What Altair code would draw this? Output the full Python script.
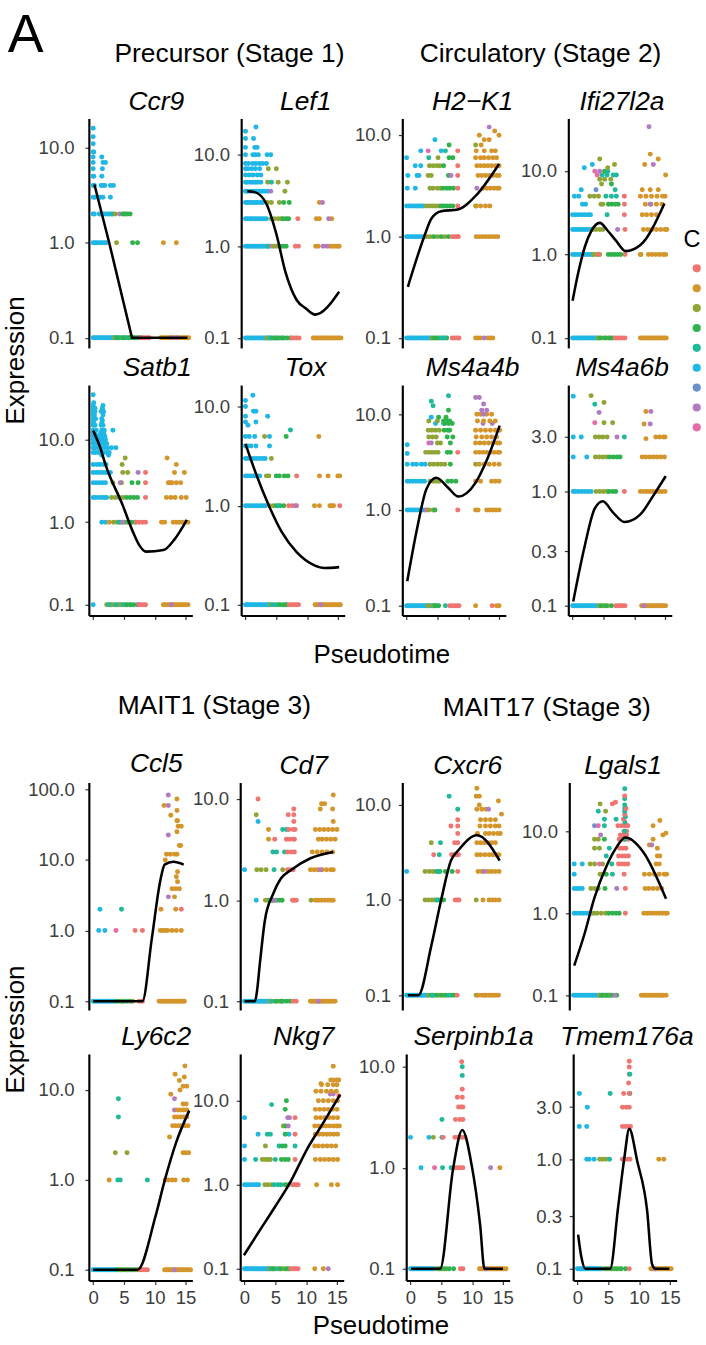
import altair as alt
import pandas as pd

FONT = "Liberation Sans"
CLUSTERS = ["0", "1", "2", "3", "4", "5", "6", "7", "8"]
CLUSTER_COLORS = ["#F07470", "#D4952B", "#8FA637", "#2EB24B", "#1FB99B",
                  "#1FB7E5", "#6B8FCB", "#B07BC0", "#E86AA9"]
X_DOMAIN = [-0.7, 16.1]
X_TICKS = [0, 5, 10, 15]
PANEL_W = 106

# ---------------- data: (cluster, expression, [pseudotime values]) ----------------
CCR9_PTS = [
    ("5", 0.1, [0.0, 0.3, 0.6, 0.9, 1.2, 1.5, 1.8, 2.1, 2.4, 2.7, 3.0, 3.3]),
    ("2", 0.1, [3.4, 4.0, 4.6, 5.2, 5.8, 6.4]),
    ("4", 0.1, [3.7, 4.3, 5.0, 5.5, 6.1, 6.8, 7.4]),
    ("3", 0.1, [3.9, 4.9, 5.9, 6.6, 7.2, 7.8]),
    ("0", 0.1, [7.6, 8.0, 8.4, 8.8, 9.1]),
    ("1", 0.1, [11.0, 11.3, 11.6, 11.9, 12.2, 12.5, 12.8, 13.1, 13.4, 13.7, 14.0, 14.3, 14.6, 14.9, 15.2, 15.5]),
    ("7", 0.1, [12.7, 13.6]),
    ("5", 1, [0.0, 0.3, 0.6, 1.0, 1.4, 1.8, 2.1]),
    ("2", 1, [3.8]), ("3", 1, [6.4, 7.2]), ("1", 1, [11.4, 13.5]),
    ("5", 2, [0.0, 0.2, 1.0, 1.3, 1.7, 2.0, 2.4, 2.7, 3.0]),
    ("4", 2, [3.2]), ("2", 2, [3.6, 5.0, 5.6]), ("7", 2, [4.3]), ("3", 2, [4.8, 5.3, 6.0]),
    ("5", 3, [0.0, 0.3, 0.8, 1.2, 1.6, 2.8]),
    ("5", 4, [0.0, 0.2, 1.3, 1.6, 1.9, 2.8, 3.3]),
    ("5", 5, [0.0, 0.1, 1.4]), ("5", 6, [0.0, 1.5]), ("5", 7, [0.0, 1.6, 2.0]),
    ("5", 8, [0.0, 1.4]), ("5", 9, [0.0, 0.1]), ("5", 11, [0.0]), ("5", 13, [0.0]), ("5", 16, [0.0]),
]
CCR9_LX = [0.2, 2.6, 6.3, 10.0, 15.3]
CCR9_LY = [4.1, 1.0, 0.1, 0.1, 0.1]

LEF1_PTS = [
    ("5", 0.1, [0.0, 0.3, 0.6, 0.9, 1.2, 1.5, 1.8, 2.1, 2.4, 2.7, 3.0, 3.3, 3.6, 3.9]),
    ("2", 0.1, [3.5, 4.2, 5.0, 5.8]), ("4", 0.1, [4.0, 4.8, 5.5, 6.3]),
    ("3", 0.1, [4.5, 5.2, 6.0, 6.8, 7.3]), ("0", 0.1, [7.5, 7.9, 8.3, 8.7]),
    ("1", 0.1, [11.0, 11.3, 11.6, 11.9, 12.2, 12.5, 12.8, 13.1, 13.4, 13.7, 14.0, 14.3, 14.6, 14.9, 15.2, 15.5]),
    ("5", 1, [0.0, 0.3, 0.6, 0.9, 1.2, 1.5, 1.8, 2.1, 2.4, 2.7, 3.0, 3.4, 3.8]),
    ("4", 1, [3.6, 5.5]), ("8", 1, [4.3]), ("2", 1, [4.6, 5.0]), ("3", 1, [5.8, 6.2, 6.6]),
    ("0", 1, [8.1, 8.6]), ("1", 1, [11.4, 11.8, 13.7, 14.1, 14.5, 14.9, 15.2]), ("7", 1, [12.6, 13.2]),
    ("5", 2, [0.0, 0.3, 0.7, 1.0, 1.4, 1.8, 2.2, 2.6, 3.0, 3.4]),
    ("2", 2, [4.2, 4.7, 5.3, 5.8]), ("3", 2, [6.1, 6.6, 7.0]), ("0", 2, [8.5]),
    ("1", 2, [11.5, 12.0, 14.0]), ("7", 2, [13.5]),
    ("5", 3, [0.0, 0.3, 0.6, 1.0, 1.3, 1.7, 2.0, 2.4, 2.8]),
    ("2", 3, [3.6, 4.2, 5.5]), ("3", 3, [6.2, 7.1]), ("1", 3, [12.0]), ("7", 3, [12.5]),
    ("5", 4, [0.0, 0.3, 0.8, 1.3, 1.8, 2.3, 2.7, 3.1, 3.6]), ("7", 4, [4.1]), ("2", 4, [6.4]),
    ("5", 5, [0.0, 0.3, 0.8, 1.2, 1.6, 2.0, 2.5]), ("2", 5, [3.6, 5.3, 6.8]), ("4", 5, [4.2]),
    ("5", 6, [0.0, 0.6, 1.2, 1.9, 2.5]),
    ("5", 7, [0.0, 0.4, 1.0, 1.6, 2.3]), ("2", 7, [3.7, 5.0]),
    ("5", 8, [0.0, 0.5, 1.2, 1.7, 2.3, 2.8, 3.4]),
    ("5", 10, [0.0, 1.2, 1.6, 2.1, 3.5, 4.1]),
    ("5", 12, [0.0, 1.5, 1.9]), ("5", 15, [0.0, 1.3]), ("5", 18, [0.0]), ("5", 20, [1.7]),
]
LEF1_LX = [0.3, 1.5, 3.4, 5.0, 6.5, 8.3, 9.8, 11.3, 15.2]
LEF1_LY = [4.0, 3.9, 2.9, 1.37, 0.52, 0.26, 0.21, 0.18, 0.32]

H2K1_PTS = [
    ("5", 0.1, [0.0, 0.3, 0.6, 0.9, 1.2, 1.5, 1.8, 2.1, 2.4, 2.7, 3.0, 3.3, 3.6, 3.9]),
    ("2", 0.1, [4.1, 4.7, 5.3]), ("3", 0.1, [4.4, 5.0, 5.9, 6.5]), ("4", 0.1, [5.6, 6.2]),
    ("0", 0.1, [7.4, 7.8, 8.2, 8.5]), ("1", 0.1, [11.2, 11.6, 12.0, 13.2, 13.6, 14.0]), ("7", 0.1, [12.6]),
    ("5", 1, [0.0, 0.3, 0.7, 1.0, 1.4, 1.8, 2.1, 2.5, 2.9]),
    ("2", 1, [3.3, 3.8, 5.0, 6.2]), ("3", 1, [4.4, 5.6, 6.8]), ("0", 1, [7.4, 7.8, 8.2, 8.4]),
    ("1", 1, [11.3, 11.8, 12.3, 12.8, 13.3, 13.8, 14.3, 14.8]),
    ("5", 2, [0.0, 0.4, 0.8, 1.2, 1.6, 2.0, 2.4, 2.7]),
    ("2", 2, [3.2, 3.7, 4.2, 4.7, 5.2, 11.2]), ("3", 2, [5.6, 6.0, 6.5, 7.0, 7.5]), ("0", 2, [8.3]),
    ("1", 2, [11.3, 12.0, 12.8, 13.5]),
    ("5", 3, [0.1, 1.4]), ("2", 3, [3.8, 4.3, 5.0, 5.5]), ("3", 3, [5.9, 6.5, 7.0, 7.6]),
    ("0", 3, [8.3]), ("7", 3, [11.4]), ("1", 3, [12.4, 13.0, 13.6, 14.2, 14.7, 15.0]),
    ("5", 4, [0.2, 1.7, 2.0]), ("2", 4, [3.5, 4.0]), ("3", 4, [6.8]), ("7", 4, [7.2]), ("0", 4, [8.3]),
    ("1", 4, [11.6, 12.2, 12.8, 13.4, 14.0, 14.6, 15.0]),
    ("5", 5, [1.4, 2.3]), ("2", 5, [3.7, 4.3, 4.9, 5.4]), ("3", 5, [6.0]), ("0", 5, [8.3]),
    ("1", 5, [11.4, 12.0, 12.6, 13.2, 13.8, 14.4, 15.0]),
    ("5", 6, [0.0]), ("4", 6, [3.6]), ("2", 6, [5.1]), ("3", 6, [6.9, 7.5]),
    ("1", 6, [11.2, 12.0, 12.6, 13.3, 14.0, 14.6]),
    ("5", 7, [2.3, 5.6]), ("8", 7, [3.5]), ("4", 7, [6.3]), ("0", 7, [8.3]), ("1", 7, [11.3, 12.6, 13.8, 14.4]),
    ("2", 8, [11.2]), ("1", 8, [12.1]), ("3", 8, [6.9]),
    ("5", 9, [4.6]), ("1", 9, [12.6, 13.4]), ("1", 10, [11.8, 15.0]), ("1", 11, [14.3]), ("7", 12, [13.4]),
]
H2K1_LX = [0.2, 1.9, 3.0, 4.0, 5.6, 8.3, 11.4, 15.0]
H2K1_LY = [0.32, 0.68, 1.06, 1.5, 1.78, 1.85, 2.6, 5.2]

IFI_PTS = [
    ("5", 0.1, [0.0, 0.3, 0.6, 0.9, 1.2, 1.5, 1.8, 2.1, 2.4, 2.7, 3.0, 3.3, 3.6, 3.9]),
    ("2", 0.1, [4.1, 4.7, 5.5, 6.1]), ("3", 0.1, [4.4, 5.2, 5.9, 6.5]),
    ("0", 0.1, [6.9, 7.3, 7.7, 8.1, 8.5]),
    ("1", 0.1, [11.0, 11.3, 11.6, 11.9, 12.2, 12.5, 12.8, 13.1, 13.4, 13.7, 14.0, 14.3, 14.6, 14.9, 15.2]),
    ("5", 1, [0.0, 0.4, 0.8, 1.2, 1.6, 2.0, 2.4, 2.8, 3.2]), ("2", 1, [3.4, 3.9, 4.4, 11.1]), ("0", 1, [4.2, 8.5]),
    ("3", 1, [5.8, 6.3, 6.8, 7.3, 7.8]), ("1", 1, [11.0, 12.3, 12.9, 13.5, 14.1, 14.7, 15.1]),
    ("5", 2, [0.0, 0.4, 0.8, 1.2, 1.6, 2.0, 2.4, 2.9]), ("2", 2, [3.3, 3.8, 4.4, 4.9]), ("7", 2, [7.3]),
    ("0", 2, [8.5]), ("1", 2, [11.5, 12.2, 12.9, 13.6, 14.3, 15.0, 15.3]),
    ("5", 3, [0.0, 0.5, 1.0, 1.5, 2.0, 2.5, 2.9]), ("4", 3, [5.6]), ("0", 3, [8.4]),
    ("1", 3, [11.3, 12.0, 12.8, 13.6]),
    ("5", 4, [1.6, 2.1]), ("2", 4, [4.6, 4.9]), ("3", 4, [5.8, 6.3, 6.9, 7.4]), ("0", 4, [8.4]),
    ("1", 4, [11.8, 12.7, 13.6, 14.5]), ("7", 4, [12.6]),
    ("5", 5, [0.3, 1.0]), ("2", 5, [2.8, 3.5, 4.2]), ("4", 5, [5.4, 6.3, 7.1]), ("0", 5, [8.4]),
    ("1", 5, [11.0, 11.9, 12.8, 13.7, 14.6, 15.0]),
    ("5", 6, [1.4]), ("6", 6, [3.8]), ("4", 6, [6.9]), ("1", 6, [11.3, 12.6, 13.9]),
    ("2", 7, [4.7]), ("3", 7, [6.3]), ("2", 8, [4.4, 5.2, 6.2]),
    ("8", 9, [4.0]), ("4", 9, [4.8, 5.6, 6.6, 7.1]), ("1", 9, [15.1]),
    ("8", 10, [3.6]), ("7", 10, [4.4]), ("3", 10, [5.2]), ("4", 10, [5.7]),
    ("5", 11, [1.9]), ("2", 11, [5.7]),
    ("5", 12, [3.2]), ("7", 12, [13.1]), ("2", 12, [6.8]), ("1", 12, [11.7]),
    ("2", 14, [4.4]), ("1", 14, [13.9]), ("1", 16, [12.6]), ("7", 34, [12.4]),
]
IFI_LX = [0.0, 0.9, 2.0, 3.0, 4.4, 5.7, 7.0, 8.6, 11.0, 14.9]
IFI_LY = [0.28, 0.6, 1.25, 1.9, 2.4, 1.93, 1.48, 1.1, 1.3, 4.1]

SATB1_PTS = [
    ("5", 0.1, [0.0, 3.0, 4.3]),
    ("2", 0.1, [2.2, 2.8, 3.4, 4.0, 4.6, 5.2]), ("4", 0.1, [2.5, 3.7, 4.9, 6.1]),
    ("3", 0.1, [5.5, 6.0, 6.6, 7.2]), ("8", 0.1, [7.4]), ("0", 0.1, [7.7, 8.1, 8.5]),
    ("1", 0.1, [11.4, 11.7, 12.0, 12.3, 12.6, 12.9, 13.2, 13.5, 13.8, 14.1, 14.4, 14.7, 15.0, 15.4]),
    ("7", 0.1, [12.7]),
    ("5", 1, [1.4, 2.0]), ("1", 1, [2.6]), ("2", 1, [3.3, 3.9, 4.5, 5.1]), ("3", 1, [5.6, 6.2, 6.8]),
    ("4", 1, [4.2]), ("7", 1, [4.8]), ("0", 1, [7.0, 7.5, 8.0, 8.5]),
    ("1", 1, [11.1, 11.6, 13.0, 13.5, 14.0, 14.5, 15.0, 15.4]),
    ("5", 2, [0.0, 0.4, 0.9, 1.4, 1.8, 2.2]), ("2", 2, [3.0, 3.6, 4.2, 4.8]),
    ("3", 2, [5.4, 6.0, 6.6, 7.2]), ("0", 2, [8.5]), ("1", 2, [11.9, 12.6, 13.3, 14.3, 15.1]),
    ("5", 3, [0.0, 0.5, 1.0, 1.5, 2.0]), ("2", 3, [3.2, 4.6]), ("7", 3, [4.4, 12.5]),
    ("3", 3, [6.3, 7.3]), ("0", 3, [8.5]), ("1", 3, [12.2, 12.8, 13.5, 14.2]),
    ("5", 4, [0.0, 0.5, 1.0, 1.5, 2.0, 2.4, 2.8]), ("2", 4, [4.8, 5.6]), ("7", 4, [7.3]),
    ("0", 4, [8.5]), ("1", 4, [13.2, 14.8]),
    ("2", 5, [4.7]), ("1", 5, [13.5]), ("5", 5, [0.0, 0.6, 1.1, 1.7, 2.1]),
    ("5", 6.5, [1.4, 2.5]), ("2", 6, [5.2]), ("1", 6, [12.0]),
    ("5", 7, [0.0, 0.3, 0.8, 1.3, 1.7, 2.2, 2.6]),
    ("5", 8, [0.0, 0.4, 0.9, 1.4, 1.9, 2.4, 3.0, 3.7]),
    ("5", 9, [0.0, 0.3, 0.8, 1.3, 1.8, 2.2]), ("5", 10, [0.0, 0.2, 0.6, 1.1, 1.6, 2.0]),
    ("5", 11, [0.0, 0.4, 0.9, 1.4, 1.9]), ("5", 12, [0.0, 0.3, 1.2, 1.7]),
    ("5", 13, [0.0, 0.5, 1.4, 1.8, 3.2]), ("5", 15, [0.0, 0.3, 1.3, 1.6]), ("5", 16, [0.0, 1.4]),
    ("5", 17, [0.1, 1.5]), ("5", 18, [0.0, 0.4, 1.4]), ("5", 20, [0.0, 0.2, 1.6]),
    ("5", 22, [0.0, 0.3, 1.3, 1.7]), ("5", 24, [0.0, 0.3, 1.5]), ("5", 26, [0.0, 1.6]),
    ("5", 28, [0.1]), ("5", 35, [0.0]),
]
SATB1_LX = [0.0, 1.1, 2.1, 4.8, 6.4, 7.4, 8.6, 11.4, 13.2, 15.2]
SATB1_LY = [12.9, 8.2, 4.75, 1.6, 0.78, 0.54, 0.44, 0.46, 0.62, 1.07]

TOX_PTS = [
    ("5", 0.1, [0.0, 0.3, 0.6, 0.9, 1.2, 1.5, 1.8, 2.1, 2.4, 2.7, 3.0, 3.3, 3.6, 3.8]),
    ("2", 0.1, [4.0, 4.6, 5.3]), ("4", 0.1, [4.3, 5.0, 6.5]), ("3", 0.1, [5.6, 6.1, 6.7]),
    ("0", 0.1, [7.1, 7.5, 7.9, 8.3, 8.6]),
    ("1", 0.1, [11.3, 11.6, 11.9, 12.2, 12.5, 12.8, 13.1, 13.4, 13.7, 14.0, 14.3, 14.6, 14.9, 15.2, 15.4]),
    ("7", 0.1, [12.2]),
    ("5", 1, [0.0, 0.4, 0.8, 1.2, 1.6, 2.0, 2.4, 2.8, 3.2]), ("2", 1, [3.9, 4.5]),
    ("3", 1, [5.0, 5.6, 6.2]), ("4", 1, [5.3]), ("0", 1, [7.0, 7.6, 8.3, 15.3]), ("7", 1, [8.1]),
    ("1", 1, [11.2, 12.0, 13.7, 14.0, 14.3]),
    ("5", 2, [0.0, 0.3, 0.7, 1.1, 1.5, 1.9, 2.3]), ("2", 2, [3.4, 3.8]), ("3", 2, [5.0, 5.5, 6.3, 6.9]),
    ("0", 2, [8.3]), ("1", 2, [12.0, 13.4, 15.0, 15.3]),
    ("5", 3, [0.0, 0.4, 0.8, 1.3, 1.8, 2.3, 2.8, 3.2]), ("2", 3, [4.2]),
    ("5", 4, [0.0, 0.4, 0.9, 1.7, 3.9]),
    ("5", 5, [0.0, 0.6, 1.5, 3.9]), ("2", 5, [3.1]), ("3", 5, [6.6]), ("1", 5, [11.9]),
    ("4", 5.8, [7.3]), ("5", 6.5, [0.4]), ("5", 7, [0.0, 1.7]), ("5", 8, [0.0, 3.6]),
    ("5", 9, [1.3, 1.7]), ("5", 10, [0.0]), ("5", 11.5, [0.0]), ("5", 13, [1.2]),
]
TOX_LX = [0.0, 1.7, 3.8, 5.9, 8.3, 11.2, 12.8, 15.2]
TOX_LY = [4.2, 2.1, 1.0, 0.54, 0.34, 0.25, 0.235, 0.24]

MS4A4B_PTS = [
    ("5", 0.1, [0.0, 0.3, 0.6, 0.9, 1.2, 1.5, 1.8, 2.1, 2.4, 2.7, 3.0, 3.3, 3.6, 3.9, 4.2, 4.6, 5.0]),
    ("2", 0.1, [3.5, 4.3]), ("3", 0.1, [4.6, 5.2]), ("4", 0.1, [6.3]),
    ("0", 0.1, [7.0, 7.4, 7.8, 8.2, 8.5, 13.9]), ("1", 0.1, [11.2, 14.6, 15.0]),
    ("5", 1, [0.1, 0.5, 0.9, 1.3, 1.7, 2.1, 2.5, 2.9]), ("8", 1, [3.2]), ("2", 1, [3.6, 4.3]),
    ("3", 1, [4.6]), ("0", 1, [8.3]), ("1", 1, [11.2, 11.6, 13.0, 13.5, 14.0, 14.5, 15.0]),
    ("5", 2, [0.1, 0.5, 1.0, 1.5, 2.0, 2.5, 2.9]), ("2", 2, [3.8, 4.3, 4.8, 5.3]),
    ("3", 2, [6.7, 7.3, 8.0]), ("1", 2, [11.2, 12.0, 13.8, 14.4, 15.0]),
    ("5", 3, [0.1, 1.0, 1.6, 2.4, 3.0]), ("2", 3, [3.8, 4.4, 5.0, 5.6, 6.2, 11.2]), ("3", 3, [7.1]),
    ("1", 3, [11.8, 12.6, 13.4, 14.2, 15.0]),
    ("2", 4, [3.1, 3.6, 4.1, 4.6, 5.1]), ("3", 4, [6.6, 7.1]), ("0", 4, [8.3]),
    ("1", 4, [11.2, 11.8, 12.4, 13.0, 13.6, 14.2, 14.8, 15.1]), ("5", 3.9, [0.1]),
    ("8", 5, [3.6]), ("7", 5, [4.0]), ("2", 5, [5.0, 5.5]), ("3", 5, [7.1]),
    ("1", 5, [11.2, 11.9, 12.6, 13.3, 14.0, 14.7, 15.1]), ("5", 4.8, [0.1]),
    ("2", 5.8, [3.6, 4.2, 4.8]), ("3", 5.8, [6.6, 7.5]), ("1", 5.8, [11.3, 12.2, 13.0, 13.8, 14.6]),
    ("2", 6.8, [3.5, 4.1, 4.7, 5.3]), ("3", 6.8, [6.1, 6.7, 7.0]),
    ("1", 6.8, [11.2, 12.0, 12.8, 13.6, 14.4, 15.1]),
    ("5", 8, [4.7, 6.0]), ("3", 8, [6.2, 6.8, 7.4]), ("7", 8, [12.4, 13.9]),
    ("2", 8.5, [3.6, 5.0]), ("3", 8.5, [6.0, 6.6, 7.0]), ("1", 8.5, [11.5, 12.5, 13.5, 14.4]),
    ("5", 9.3, [4.0]), ("3", 9.3, [5.2, 6.4]),
    ("1", 10, [11.4, 12.0, 13.0, 13.8]), ("7", 10, [12.5]),
    ("3", 11, [6.8]), ("7", 11, [12.2, 13.0]), ("4", 12.3, [4.3]), ("7", 12.8, [12.5]),
    ("4", 13.7, [4.0]), ("7", 15, [11.2, 11.8]), ("4", 15.6, [6.8]),
]
MS4A4B_LX = [0.1, 1.7, 3.2, 4.8, 6.7, 8.4, 11.2, 13.0, 15.1]
MS4A4B_LY = [0.18, 0.64, 1.65, 2.17, 1.72, 1.38, 1.93, 3.3, 7.6]

MS4A6B_PTS = [
    ("5", 0.1, [0.0, 0.3, 0.6, 0.9, 1.2, 1.5, 1.8, 2.1, 2.4, 2.7, 3.0, 3.3, 3.6, 3.9]),
    ("2", 0.1, [4.3, 5.0, 5.7]), ("3", 0.1, [4.6, 5.4, 6.3]), ("0", 0.1, [7.0, 7.4, 7.8, 8.2, 8.5]),
    ("1", 0.1, [11.2, 11.5, 11.8, 12.1, 12.4, 12.7, 13.0, 13.3, 13.6, 13.9, 14.2, 14.5, 14.8, 15.1]),
    ("7", 0.1, [11.6]),
    ("5", 1, [0.1, 0.5, 1.0, 1.5, 2.0, 2.5, 3.0]), ("2", 1, [3.8, 4.4, 5.0, 5.6]),
    ("3", 1, [5.9, 6.5, 7.0]), ("0", 1, [8.4]),
    ("1", 1, [11.0, 11.5, 12.0, 12.5, 13.0, 13.5, 14.0, 14.5, 15.0]),
    ("5", 2, [0.1, 2.3]), ("2", 2, [3.7, 4.3, 4.9, 5.5]), ("3", 2, [6.0, 6.6, 7.2, 7.7]),
    ("1", 2, [11.3, 11.9, 12.5, 13.1, 13.7, 14.3, 14.9]),
    ("5", 3, [0.1, 1.4]), ("2", 3, [3.7, 4.3, 4.9, 5.6]), ("7", 3, [7.2]), ("4", 3, [8.4]),
    ("1", 2.9, [11.9]), ("1", 3, [13.5, 14.1, 14.7, 15.0]),
    ("8", 4, [3.6]), ("2", 4, [5.1, 6.5]), ("1", 3.9, [11.6]), ("7", 3.9, [12.6]),
    ("7", 4.9, [4.3]), ("1", 5, [11.9]), ("7", 5, [12.7]),
    ("4", 5.8, [3.6]), ("2", 6, [5.1]), ("5", 6.8, [0.1]), ("2", 6.9, [3.0]),
]
MS4A6B_LX = [0.1, 0.9, 2.0, 3.6, 4.9, 6.5, 8.4, 11.0, 13.1, 15.1]
MS4A6B_LY = [0.109, 0.18, 0.34, 0.71, 0.82, 0.66, 0.54, 0.63, 0.92, 1.36]

CCL5_PTS = [
    ("5", 0.1, [0.0, 0.3, 0.6, 0.9, 1.2, 1.5, 1.8, 2.1, 2.4, 2.7, 3.0, 3.3]),
    ("4", 0.1, [3.6, 4.5, 5.5]), ("3", 0.1, [4.0, 5.0, 6.0]), ("2", 0.1, [4.8, 6.4]), ("0", 0.1, [7.5, 8.0]),
    ("1", 0.1, [10.7, 11.0, 11.3, 11.6, 11.9, 12.2, 12.5, 12.8, 13.1, 13.4, 13.7, 14.0, 14.3, 14.6, 14.8]),
    ("5", 1, [0.9, 1.9]), ("8", 1, [3.7]), ("0", 1, [6.8, 8.0]),
    ("1", 1, [10.9, 11.3, 11.7, 12.1, 12.8, 13.5, 14.3]),
    ("5", 2, [1.1]), ("4", 2, [4.6]), ("1", 2, [11.0, 13.4]), ("0", 2, [14.3]),
    ("7", 3, [12.2]), ("1", 3, [13.2]), ("1", 3.9, [12.8, 13.4, 14.0]),
    ("1", 4.9, [13.7]), ("1", 5.8, [13.5]), ("1", 6.8, [13.7]), ("1", 10, [11.7]),
    ("1", 12, [11.9, 12.5, 13.2, 13.6]), ("1", 16, [14.0, 14.2]), ("7", 22.5, [12.2]),
    ("1", 25, [13.6]), ("1", 30, [13.8, 14.3]), ("1", 36, [13.6, 13.7]), ("1", 43, [12.6]),
    ("1", 50, [13.6]), ("1", 59, [11.5]), ("7", 59, [12.2]), ("1", 73, [13.6]), ("7", 83, [12.2]),
]
CCL5_LX = [0.0, 4.0, 8.0, 9.5, 10.9, 11.6, 13.0, 14.7]
CCL5_LY = [0.1, 0.1, 0.1, 0.75, 5.1, 8.6, 9.4, 8.6]

CD7_PTS = [
    ("5", 0.1, [0.0, 0.3, 0.6, 0.9, 1.2, 1.5, 1.8, 2.1, 2.4, 2.7, 3.0, 3.3, 3.6, 3.9]),
    ("2", 0.1, [4.1, 4.9, 5.7]), ("4", 0.1, [4.4, 6.2]), ("3", 0.1, [5.2, 6.0, 6.8, 7.4]),
    ("0", 0.1, [7.9, 8.4]),
    ("1", 0.1, [10.7, 11.0, 11.3, 11.6, 11.9, 12.2, 12.5, 12.8, 13.1, 13.4, 13.7, 14.0, 14.3, 14.7]),
    ("7", 0.1, [12.0]),
    ("5", 1, [1.9]), ("2", 1, [3.4, 3.8, 4.5, 10.8]), ("4", 1, [4.2]), ("3", 1, [4.7, 5.2, 5.7, 6.1]),
    ("7", 1, [4.9]), ("0", 1, [7.8, 8.1, 8.4]), ("1", 1, [11.5, 12.0, 12.5, 13.0, 13.5, 14.0, 14.4]),
    ("5", 2, [0.0]), ("2", 2, [2.0, 2.7, 3.5, 6.2]), ("4", 2, [4.8]), ("0", 2, [7.0, 7.5, 7.9]),
    ("1", 2, [10.7, 11.3, 11.9, 12.6, 13.3, 14.0, 14.4]), ("7", 2, [12.3]),
    ("4", 3, [4.6, 5.2, 6.5]), ("0", 3, [7.0, 7.6, 8.1]), ("1", 3, [11.0, 11.8, 12.6, 13.4, 14.3]),
    ("1", 4, [3.9, 12.0, 12.6, 13.3, 14.0, 14.7]), ("0", 4, [4.9, 6.8, 7.3, 7.9, 8.1]),
    ("1", 5, [3.9, 11.5, 12.2, 12.9, 13.6, 14.3, 15.0]), ("4", 5, [6.2, 6.8]), ("0", 5, [7.2, 7.9, 8.2]),
    ("5", 6, [2.2]), ("0", 6, [8.0]), ("1", 6, [14.4]),
    ("2", 7, [1.9]), ("0", 7, [7.1, 8.0]), ("1", 8, [12.3, 14.3]), ("0", 8, [8.0]),
    ("1", 9, [12.5, 13.0]), ("0", 10, [2.2]), ("1", 11, [14.4]),
]
CD7_LX = [0.0, 1.7, 2.0, 2.5, 3.3, 4.6, 5.9, 7.5, 10.7, 14.4]
CD7_LY = [0.1, 0.1, 0.123, 0.24, 0.63, 1.14, 1.64, 1.98, 2.6, 3.0]

CXCR6_PTS = [
    ("5", 0.1, [0.0, 0.3, 0.6, 0.9, 1.2, 1.5, 1.8, 2.1, 2.4, 2.7, 3.0, 3.4]),
    ("2", 0.1, [3.6, 4.4, 5.2, 6.0, 11.3]), ("3", 0.1, [4.0, 4.8, 5.6, 6.4, 7.2, 7.7]),
    ("4", 0.1, [4.2, 6.8]), ("0", 0.1, [8.2]), ("7", 0.1, [12.6]),
    ("1", 0.1, [11.6, 12.2, 12.9, 13.3, 13.7, 14.1, 14.5, 14.9]),
    ("2", 1, [3.0, 3.5, 4.1, 4.6, 11.3]), ("3", 1, [5.1, 5.6, 6.0]), ("4", 1, [4.9]),
    ("0", 1, [7.9, 8.2, 8.5]), ("1", 1, [12.4, 13.4, 13.9, 14.4, 15.0]),
    ("5", 2, [0.0]), ("2", 2, [3.0, 3.7, 4.3]), ("3", 2, [4.9, 5.4, 6.3, 7.4]), ("4", 2, [5.2]),
    ("0", 2, [8.3]), ("1", 2, [11.6, 12.2, 13.2, 13.8, 14.4, 15.0]), ("7", 2, [12.6]),
    ("0", 3, [4.4, 7.3, 7.7, 8.1, 8.4]), ("4", 3, [5.3]),
    ("1", 3, [11.4, 12.0, 12.7, 13.4, 14.0, 14.6, 15.0]),
    ("2", 4, [4.0]), ("4", 4, [5.5]), ("0", 4, [7.8, 8.3]), ("1", 4, [11.4, 12.0, 12.6, 13.2, 13.8, 14.4]),
    ("0", 5, [8.3]), ("1", 5, [11.5, 12.8, 13.4, 14.1, 14.8, 15.2]),
    ("0", 6, [7.2, 8.3]), ("1", 6, [11.9, 12.8, 13.6, 14.4, 15.0]),
    ("0", 7, [8.3]), ("1", 7, [12.0, 12.8, 13.6, 14.4]), ("1", 8, [15.4]),
    ("4", 9, [8.3]), ("1", 9, [11.4, 12.2, 12.9]), ("7", 9, [13.3]),
    ("1", 10, [11.8]), ("1", 11, [14.9]), ("1", 12.3, [11.3, 11.8]), ("4", 12.3, [6.9]), ("1", 15, [11.4]),
]
CXCR6_LX = [0.2, 1.9, 4.0, 5.6, 7.2, 8.5, 11.4, 15.1]
CXCR6_LY = [0.1, 0.1, 0.33, 1.0, 2.6, 3.4, 4.8, 2.6]

LGALS1_PTS = [
    ("5", 0.1, [0.0, 0.3, 0.6, 0.9, 1.2, 1.5, 1.8, 2.1, 2.4, 2.7, 3.0, 3.3, 3.6, 3.9, 4.2, 4.5, 4.8, 5.1, 5.4, 5.7, 6.0]),
    ("2", 0.1, [4.2, 5.0, 5.8]), ("3", 0.1, [4.6, 5.4, 6.3, 7.0]), ("7", 0.1, [6.7]),
    ("1", 0.1, [11.0, 11.3, 11.6, 11.9, 12.2, 12.5, 12.8, 13.1, 13.4, 13.7, 14.0, 14.3, 14.6, 15.0]),
    ("5", 1, [0.1, 0.5, 1.0, 1.5, 2.0, 2.5, 2.9]), ("2", 1, [3.3, 3.8, 4.5, 5.2]),
    ("3", 1, [5.7, 6.3, 6.9, 7.4]), ("0", 1, [8.4]),
    ("1", 1, [11.4, 11.9, 12.4, 12.9, 13.4, 13.9, 14.4, 14.9, 15.2]),
    ("5", 2, [0.1, 0.5, 0.9, 1.4]), ("2", 2, [2.8, 3.4, 4.0]), ("3", 2, [5.1]), ("7", 2, [7.0]),
    ("0", 2, [8.4]), ("1", 2, [11.6, 12.2, 12.9, 13.6, 14.3]),
    ("5", 3, [0.1]), ("2", 3, [4.3, 4.5]), ("3", 3, [5.3]), ("4", 3, [6.3]), ("0", 3, [8.2]),
    ("1", 3, [11.5, 12.3, 13.1, 13.9, 14.7, 15.1]),
    ("5", 4, [0.1, 1.4]), ("2", 4, [2.7, 3.4, 4.7]), ("8", 4, [4.2]), ("4", 4, [6.2]),
    ("0", 4, [7.3, 7.8, 8.3, 8.8]), ("1", 4, [13.4, 13.9]),
    ("4", 5, [5.3]), ("0", 5, [7.3, 7.9, 8.4, 8.9]), ("1", 5, [13.6, 14.0]),
    ("2", 6.2, [3.4, 4.2]), ("4", 6.2, [5.8]), ("0", 6.2, [7.5, 8.0, 8.5]), ("1", 6.2, [13.6]),
    ("1", 6.8, [12.3]), ("7", 6.8, [12.7]),
    ("2", 8, [3.4, 4.0]), ("3", 8, [5.0]), ("0", 8, [7.4, 7.9, 8.4, 8.9]), ("4", 8, [8.3]), ("1", 8, [12.9]),
    ("7", 9, [4.4]), ("0", 9, [7.6, 8.1, 8.6]), ("1", 9, [14.5]), ("1", 9.5, [15.0]),
    ("0", 10, [8.2, 8.6]), ("4", 10, [8.3]),
    ("6", 11.7, [3.4]), ("8", 11.7, [4.0]), ("4", 11.7, [5.0]), ("0", 11.7, [7.2, 7.8, 8.3, 8.8]),
    ("1", 11.7, [12.9]), ("0", 12, [8.5]), ("4", 13, [8.3]), ("1", 13.5, [14.0]),
    ("4", 14, [5.0, 6.9]), ("0", 14, [8.1]), ("4", 15, [8.4]), ("0", 16, [8.3]),
    ("4", 17.6, [4.0, 8.3]), ("2", 17.6, [5.2]), ("4", 19, [8.3]), ("0", 19, [8.5]),
    ("2", 21.6, [4.3]), ("0", 21.6, [6.3]), ("4", 21, [8.3]), ("0", 22.6, [6.8]),
    ("4", 25, [8.3]), ("0", 27, [8.3]), ("4", 33, [8.3]),
]
LGALS1_LX = [0.1, 1.8, 3.4, 5.3, 6.8, 8.4, 11.3, 15.0]
LGALS1_LY = [0.23, 0.57, 1.56, 3.7, 6.1, 8.4, 5.6, 1.5]

LY6C2_PTS = [
    ("5", 0.1, [0.0, 0.3, 0.6, 0.9, 1.2, 1.5, 1.8, 2.1, 2.4, 2.7, 3.0, 3.3, 3.6]),
    ("4", 0.1, [3.8, 4.6, 5.4, 6.2]), ("3", 0.1, [4.1, 5.0, 5.8, 6.6, 7.2]), ("2", 0.1, [4.4, 5.6, 6.9]),
    ("0", 0.1, [7.6, 8.0, 8.4, 8.8]),
    ("1", 0.1, [11.6, 11.9, 12.2, 12.5, 12.8, 13.1, 13.4, 13.7, 14.0, 14.3, 14.6, 14.9, 15.2, 15.5, 15.8]),
    ("7", 0.1, [13.2]),
    ("1", 1, [2.6, 11.7, 12.2, 12.8, 13.3, 14.7, 15.3]), ("4", 1, [4.0, 4.4, 8.8]),
    ("2", 2, [3.6, 5.5]), ("1", 2, [14.6, 15.0, 15.5]), ("1", 3, [12.4]),
    ("1", 4, [12.9, 13.4, 13.9, 14.4, 14.9, 15.4]),
    ("4", 5, [4.1]), ("1", 5, [13.2, 13.7, 14.2, 14.7, 15.2]),
    ("7", 6, [13.2]), ("1", 6, [13.7, 14.2, 14.7, 15.2]), ("1", 7, [14.6, 15.1]),
    ("4", 8, [4.1]), ("7", 8, [13.2]), ("1", 9, [12.6]), ("1", 10, [14.1]), ("1", 11, [14.6, 15.2]),
    ("1", 12.8, [14.0]), ("1", 14, [14.8]), ("1", 15, [13.3]), ("1", 18.5, [14.9]),
]
LY6C2_LX = [0.0, 3.5, 7.2, 10.1, 11.6, 13.5, 15.6]
LY6C2_LY = [0.1, 0.1, 0.1, 0.39, 0.98, 2.65, 5.9]

NKG7_PTS = [
    ("5", 0.1, [0.0, 0.3, 0.6, 0.9, 1.2, 1.5, 1.8, 2.1, 2.4, 2.7, 3.0, 3.3, 3.6, 3.8]),
    ("2", 0.1, [4.0, 4.8, 5.6, 6.4]), ("4", 0.1, [4.3, 5.2]), ("3", 0.1, [4.6, 5.9, 6.8, 7.2]),
    ("0", 0.1, [7.5, 7.9, 8.3, 8.7]), ("1", 0.1, [11.4, 12.8]), ("7", 0.1, [13.6]),
    ("5", 1, [0.0, 0.4, 0.8, 1.2, 1.6, 2.0, 2.3]), ("2", 1, [3.3, 3.8, 4.4]), ("4", 1, [4.8, 5.4, 5.9]),
    ("3", 1, [6.6, 7.1]), ("0", 1, [7.8, 8.1, 8.4, 8.7]), ("1", 1, [11.7, 14.1, 15.1]),
    ("5", 2, [0.0]), ("4", 2, [1.8, 5.0]), ("2", 2, [2.9, 3.4, 3.8, 4.2]), ("3", 2, [6.0, 6.6, 7.1]),
    ("0", 2, [8.2]), ("1", 2, [11.5, 12.3, 13.0, 13.7, 14.4, 15.1]),
    ("5", 2.9, [0.0]), ("2", 2.9, [3.4]), ("4", 2.9, [5.6, 8.2]), ("3", 2.9, [6.1, 6.6]),
    ("1", 2.9, [11.4, 12.0, 12.7, 13.4, 14.1, 14.8]),
    ("5", 4, [2.2, 7.2]), ("4", 4, [3.7, 4.2]), ("3", 4, [6.6]), ("0", 4, [8.2]),
    ("1", 4, [11.5, 12.1, 12.7, 13.3, 13.9, 14.5, 15.1]),
    ("2", 5, [6.3]), ("3", 5, [6.7]), ("7", 5, [7.1]),
    ("1", 5, [11.4, 12.0, 12.6, 13.2, 13.8, 14.4, 15.0, 15.4]),
    ("5", 6.3, [0.0]), ("7", 6.3, [7.0, 7.3]), ("0", 6.3, [8.2]),
    ("1", 6.3, [11.6, 12.3, 13.0, 13.7, 14.4, 15.1]),
    ("3", 7.9, [6.6]), ("1", 7.9, [11.5, 12.2, 12.9, 13.6, 14.3, 15.0]),
    ("4", 9, [4.4]), ("3", 10, [6.8]), ("1", 10, [12.0, 12.8, 13.6, 14.4, 15.1]),
    ("0", 11.5, [15.3]), ("7", 12, [13.9, 14.4]), ("1", 13, [11.6, 12.4, 13.3, 14.1, 14.9]),
    ("1", 15.5, [12.5, 13.5, 14.4, 15.0]), ("1", 16, [12.4]),
    ("1", 17.7, [14.0, 14.5, 15.0, 15.3]), ("1", 25.7, [14.4]),
]
NKG7_LX = [-0.1, 2.25, 4.9, 7.5, 10.2, 12.8, 15.5]
NKG7_LY = [0.145, 0.27, 0.54, 1.1, 2.7, 5.5, 11.8]

SERPINB1A_PTS = [
    ("5", 0.1, [0.0, 0.3, 0.6, 0.9, 1.2, 1.5, 1.8, 2.1, 2.4, 2.7, 3.0, 3.3, 3.6, 3.9]),
    ("2", 0.1, [4.3, 5.1, 5.9]), ("3", 0.1, [4.7, 5.5, 6.3, 7.0]), ("0", 0.1, [8.1, 8.5]),
    ("1", 0.1, [11.2, 11.5, 11.8, 12.1, 12.4, 12.7, 13.0, 13.3, 13.6, 13.9, 14.2, 14.5, 14.8, 15.1, 15.5]),
    ("7", 0.1, [12.3]),
    ("5", 1, [1.7]), ("8", 1, [3.9]), ("4", 1, [5.2, 6.6]), ("0", 1, [7.2, 7.7, 8.1, 8.5]),
    ("7", 1, [13.0]), ("1", 1, [14.5]),
    ("5", 2, [0.0, 3.0]), ("2", 2, [3.7]), ("4", 2, [5.1]), ("0", 2, [5.3, 7.2, 7.6, 8.0, 8.4, 8.8]),
    ("4", 3, [5.1]), ("0", 3, [7.3, 8.0, 8.5]), ("0", 4, [7.8, 8.2, 8.5]), ("0", 5, [7.6, 8.4]),
    ("0", 6, [8.4]), ("4", 8.2, [8.4]), ("4", 10, [8.4]), ("0", 11.2, [8.3]),
]
SERPINB1A_LX = [0.1, 2.5, 4.8, 6.9, 8.4, 9.9, 11.3, 12.0, 15.0]
SERPINB1A_LY = [0.1, 0.1, 0.1, 0.97, 2.37, 1.08, 0.27, 0.1, 0.1]

TMEM176A_PTS = [
    ("5", 0.1, [0.0, 0.3, 0.6, 0.9, 1.2, 1.5, 1.8, 2.1, 2.4, 2.7, 3.0, 3.3, 3.6, 3.9]),
    ("2", 0.1, [4.3, 5.1, 5.9, 6.7]), ("3", 0.1, [4.7, 5.5, 6.3, 7.1, 7.8]), ("0", 0.1, [8.4]),
    ("1", 0.1, [11.9, 12.2, 12.5, 12.8, 13.1, 13.4, 13.7, 14.0, 14.3, 14.6, 14.9, 15.2]),
    ("7", 0.1, [12.6]),
    ("5", 1, [1.5, 1.9, 2.7]), ("2", 1, [3.6, 4.1, 4.6]), ("4", 1, [5.2]),
    ("0", 1, [7.3, 7.7, 8.1, 8.5]), ("1", 1, [13.2, 14.0]),
    ("5", 2, [0.3, 1.5]), ("0", 2, [7.3, 7.8, 8.3, 8.6]),
    ("5", 3, [1.6]), ("0", 3, [7.3, 7.9, 8.4]),
    ("5", 4, [0.3]), ("4", 4, [5.3, 8.5]), ("0", 4, [7.5, 8.4]),
    ("0", 5, [8.3]), ("0", 6, [8.4]), ("4", 6, [8.5]), ("0", 7, [8.4]), ("0", 7.9, [8.4]),
]
TMEM176A_LX = [0.1, 0.6, 1.3, 5.3, 6.6, 7.6, 8.4, 9.7, 11.3, 12.1, 12.6, 14.9]
TMEM176A_LY = [0.205, 0.13, 0.1, 0.1, 0.37, 1.03, 1.9, 0.96, 0.34, 0.11, 0.1, 0.1]

T3 = [0.1, 1, 10]
# gene: (points, line x, line y, y domain, y ticks, line interpolation, title shift)
PANELS = {
    "Ccr9": (CCR9_PTS, CCR9_LX, CCR9_LY, [0.078, 20.3], T3, "linear", 16),
    "Lef1": (LEF1_PTS, LEF1_LX, LEF1_LY, [0.078, 24.8], T3, "monotone", 13),
    "H2\u2212K1": (H2K1_PTS, H2K1_LX, H2K1_LY, [0.080, 14.6], T3, "monotone", 19),
    "Ifi27l2a": (IFI_PTS, IFI_LX, IFI_LY, [0.076, 42.8], T3, "monotone", 2),
    "Satb1": (SATB1_PTS, SATB1_LX, SATB1_LY, [0.074, 46.0], T3, "monotone", 17),
    "Tox": (TOX_PTS, TOX_LX, TOX_LY, [0.078, 16.5], T3, "monotone", 13),
    "Ms4a4b": (MS4A4B_PTS, MS4A4B_LX, MS4A4B_LY, [0.079, 20.2], T3, "monotone", 19),
    "Ms4a6b": (MS4A6B_PTS, MS4A6B_LX, MS4A6B_LY, [0.082, 8.54], [0.1, 0.3, 1, 3], "monotone", 2),
    "Ccl5": (CCL5_PTS, CCL5_LX, CCL5_LY, [0.075, 125.0], [0.1, 1, 10, 100], "monotone", 16),
    "Cd7": (CD7_PTS, CD7_LX, CD7_LY, [0.082, 14.6], T3, "monotone", 12),
    "Cxcr6": (CXCR6_PTS, CXCR6_LX, CXCR6_LY, [0.070, 17.2], T3, "monotone", 14),
    "Lgals1": (LGALS1_PTS, LGALS1_LX, LGALS1_LY, [0.066, 39.4], T3, "monotone", 2),
    "Ly6c2": (LY6C2_PTS, LY6C2_LX, LY6C2_LY, [0.076, 25.2], T3, "monotone", 16),
    "Nkg7": (NKG7_PTS, NKG7_LX, NKG7_LY, [0.0725, 36.1], T3, "monotone", 12),
    "Serpinb1a": (SERPINB1A_PTS, SERPINB1A_LX, SERPINB1A_LY, [0.0765, 13.4], T3, "monotone", 16),
    "Tmem176a": (TMEM176A_PTS, TMEM176A_LX, TMEM176A_LY, [0.078, 9.2], [0.1, 0.3, 1, 3], "monotone", 2),
}

# legend sits at the right edge of the figure (cut off in the original)
LEGEND = alt.Legend(orient="none", legendX=609, legendY=113, title="C",
                    titleFontSize=24, titleFontWeight="normal", titleFont=FONT, titleColor="black",
                    labelExpr="''", labelOffset=0, labelFontSize=19, labelFont=FONT,
                    symbolType="circle", symbolSize=70, symbolOffset=4, symbolStrokeWidth=0,
                    rowPadding=0.35, titlePadding=7, padding=0)

AX_COMMON = dict(grid=False, domainColor="black", domainWidth=2.2, tickColor="#333333",
                 tickSize=4, tickWidth=1.2, labelFontSize=19, labelColor="#3D3D3D",
                 labelFont=FONT, labelFlush=False, labelOverlap=False)


def make_panel(gene, height, xmode, first_col):
    pts_list, lx, ly, ydom, yticks, interp, tdx = PANELS[gene]
    rows = [{"x": x, "y": y, "cluster": c} for c, y, xs in pts_list for x in xs]
    pts = pd.DataFrame(rows)
    ln = pd.DataFrame({"x": lx, "y": ly})
    xs = alt.Scale(domain=X_DOMAIN, nice=False, zero=False)
    ys = alt.Scale(type="log", domain=ydom, nice=False)
    if xmode == "none":
        xax = None
    else:
        xax = alt.Axis(values=X_TICKS, labels=(xmode == "labels"), title=None, format="d",
                       labelPadding=5, **AX_COMMON)
    ext = 63 if first_col else 54
    yax = alt.Axis(values=yticks, format=".1f", title=" ", titleFontSize=1, titlePadding=0,
                   labelPadding=(11 if first_col else 8), minExtent=ext, maxExtent=ext, **AX_COMMON)
    points = alt.Chart(pts).mark_circle(size=26, opacity=1).encode(
        x=alt.X("x:Q", scale=xs, axis=xax),
        y=alt.Y("y:Q", scale=ys, axis=yax),
        color=alt.Color("cluster:N", scale=alt.Scale(domain=CLUSTERS, range=CLUSTER_COLORS), legend=LEGEND),
    )
    line = alt.Chart(ln).mark_line(color="black", strokeWidth=2.6, interpolate=interp).encode(
        x=alt.X("x:Q", scale=xs, axis=xax),
        y=alt.Y("y:Q", scale=ys, axis=yax),
    )
    return alt.layer(points, line).properties(
        width=PANEL_W, height=height,
        title=alt.TitleParams(gene, fontSize=27, fontStyle="italic", fontWeight="normal", font=FONT,
                              offset=3, anchor="middle", dx=tdx, color="black"))


def sec_title(text, offset, dx):
    return alt.TitleParams(text, fontSize=27, fontWeight="normal", font=FONT, anchor="middle",
                           offset=offset, dx=dx, color="black")


def pair(g1, g2, height, xmode, spacing, first, title=None):
    ch = alt.hconcat(make_panel(g1, height, xmode, first), make_panel(g2, height, xmode, False),
                     spacing=spacing, bounds="flush")
    if title is not None:
        ch = ch.properties(title=title)
    return ch


def expr_title(dx):
    return alt.TitleParams("Expression", orient="left", fontSize=26.5, fontWeight="normal", font=FONT,
                           anchor="middle", offset=-3.5, dx=dx, color="black")


def pt_title(offset, dx):
    return alt.TitleParams("Pseudotime", orient="bottom", fontSize=26.5, fontWeight="normal", font=FONT,
                           anchor="middle", offset=offset, dx=dx, color="black")


# ---------- top section ----------
rowA = alt.hconcat(
    pair("Ccr9", "Lef1", 235, "none", 50, True, sec_title("Precursor (Stage 1)", 21, 45)),
    pair("H2\u2212K1", "Ifi27l2a", 235, "none", 64, False, sec_title("Circulatory (Stage 2)", 21, 31)),
    spacing=4)
rowB = alt.hconcat(
    pair("Satb1", "Tox", 236, "ticks", 50, True),
    pair("Ms4a4b", "Ms4a6b", 236, "ticks", 64, False),
    spacing=4)
top = alt.vconcat(rowA, rowB, spacing=7).properties(title=expr_title(-31))
top_w = alt.vconcat(top).properties(title=pt_title(23, 45))

# ---------- bottom section ----------
rowC = alt.hconcat(
    pair("Ccl5", "Cd7", 233, "none", 49, True, sec_title("MAIT1 (Stage 3)", 31, 30)),
    pair("Cxcr6", "Lgals1", 233, "none", 65, False, sec_title("MAIT17 (Stage 3)", 31, 37)),
    spacing=5)
rowD = alt.hconcat(
    pair("Ly6c2", "Nkg7", 232, "labels", 49, True),
    pair("Serpinb1a", "Tmem176a", 232, "labels", 65, False),
    spacing=5)
bottom = alt.vconcat(rowC, rowD, spacing=12).properties(title=expr_title(-30))
bottom_w = alt.vconcat(bottom).properties(title=pt_title(6, 33))

chart = alt.vconcat(top_w, bottom_w, spacing=24).properties(
    title=alt.TitleParams("A", fontSize=55, fontWeight="normal", font=FONT, anchor="start",
                          offset=-24, dx=4, color="black"),
    padding={"left": 3, "top": -7, "right": 0, "bottom": 0},
).configure(font=FONT).configure_view(stroke="transparent", strokeWidth=0)

chart.save("out.html", embed_options={"renderer": "svg", "actions": False})
